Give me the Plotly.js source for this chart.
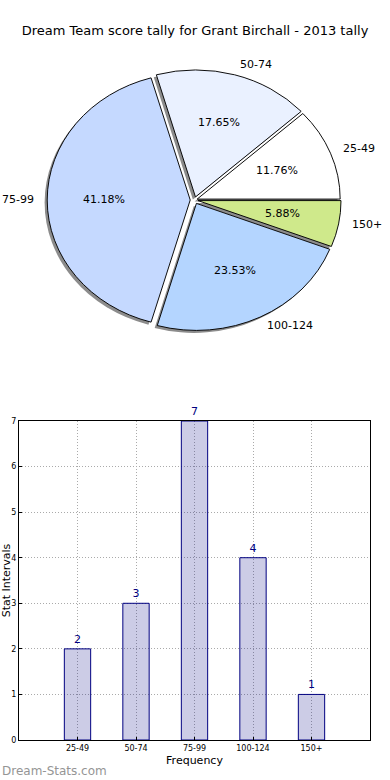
<!DOCTYPE html>
<html>
<head>
<meta charset="utf-8">
<script src="https://cdn.plot.ly/plotly-3.0.1.min.js"></script>
<style>html,body{margin:0;padding:0;background:#fff;}#chart{width:390px;height:780px;}</style>
</head>
<body>
<div id="chart"></div>
<script>
// ---- data ----
const categories = ["25-49", "50-74", "75-99", "100-124", "150+"];
const counts = [2, 3, 7, 4, 1];
const sliceColors = ["#ffffff", "#eaf1ff", "#c5d9ff", "#b4d5ff", "#cfe98b"];
const pulls = [0.02, 0.025, 0.03, 0.03, 0.025];
const chartTitle = "Dream Team score tally for Grant Birchall - 2013 tally";
const xTitle = "Frequency";
const yTitle = "Stat Intervals";
const watermark = "Dream-Stats.com";

// ---- pie geometry (pixels) ----
const W = 390, H = 780;
const font = "DejaVu Sans";
const cx = 194.5, cy = 200, R = 143;      // horizontal radius
const squash = 127 / 143;                  // matplotlib axes were not equal-aspect
const maxPull = Math.max(...pulls);
const half = R * (1 + maxPull);
function dom(x0, y0) {
  return {x: [(x0 - half) / W, (x0 + half) / W], y: [1 - (y0 + half) / H, 1 - (y0 - half) / H]};
}
const total = counts.reduce((a, b) => a + b, 0);
// first wedge starts at 3 o'clock and runs counter-clockwise
const rot = 90 - counts[0] / total * 360;

const shadow = {
  type: "pie", labels: categories, values: counts, sort: false,
  direction: "counterclockwise", rotation: rot, pull: pulls,
  domain: dom(cx - 2.6, cy + 2.8),
  marker: {colors: categories.map(() => "#8c8c8c"), line: {width: 0}},
  textinfo: "none", hoverinfo: "skip", showlegend: false
};
const pie = {
  type: "pie", labels: categories, values: counts, sort: false,
  direction: "counterclockwise", rotation: rot, pull: pulls,
  domain: dom(cx, cy),
  marker: {colors: sliceColors, line: {color: "#000", width: 1}},
  textinfo: "none", showlegend: false
};
const bars = {
  type: "bar", x: categories, y: counts, width: 0.45,
  marker: {color: "rgba(0,0,128,0.2)", line: {color: "#000080", width: 1}},
  text: counts.map(String), textposition: "outside", cliponaxis: false,
  textfont: {family: font, size: 11, color: "#000080"},
  xaxis: "x", yaxis: "y", showlegend: false
};

// wedge labels (percent at 0.6 r, category just outside), derived from the data
const pieAnn = [];
let acc = 0;
counts.forEach((v, i) => {
  const mid = (acc + v / 2) / total * 2 * Math.PI;
  acc += v;
  const dx = Math.cos(mid), dy = Math.sin(mid);
  const off = pulls[i] * R;
  const pos = f => ({x: cx + dx * (off + f * R), y: cy - squash * dy * (off + f * R)});
  const p = pos(0.6), l = pos(1.08);
  pieAnn.push({
    text: (v / total * 100).toFixed(2) + "%", xref: "paper", yref: "paper",
    x: p.x / W, y: 1 - (p.y - 1) / H, xanchor: "center", yanchor: "middle", showarrow: false,
    font: {family: font, size: 11, color: "#000"}
  });
  pieAnn.push({
    text: categories[i], xref: "paper", yref: "paper",
    x: l.x / W, y: 1 - (l.y - 1) / H, xanchor: dx > 0 ? "left" : "right", yanchor: "middle", showarrow: false,
    font: {family: font, size: 11, color: "#000"}
  });
});

const layout = {
  width: W, height: H, margin: {l: 0, r: 0, t: 0, b: 0},
  paper_bgcolor: "#fff", plot_bgcolor: "#fff",
  font: {family: font, color: "#000"},
  title: {text: chartTitle, font: {family: font, size: 13, color: "#000"}, x: 0.5, xanchor: "center", y: 1 - 30 / H, yanchor: "middle"},
  showlegend: false,
  xaxis: {
    domain: [19 / W, 370 / W], range: [-1, 5], type: "category",
    showline: true, mirror: true, linecolor: "#000", linewidth: 1,
    ticks: "inside", ticklen: 3, tickcolor: "#000",
    showgrid: true, gridcolor: "#aaaaaa", griddash: "1px,2px", gridwidth: 1,
    tickfont: {family: font, size: 8, color: "#000"},
    title: {text: xTitle, font: {family: font, size: 11, color: "#000"}, standoff: 4},
    zeroline: false, automargin: false, fixedrange: true
  },
  yaxis: {
    domain: [1 - 740 / H, 1 - 421 / H], range: [0, 7], dtick: 1,
    showline: true, mirror: true, linecolor: "#000", linewidth: 1,
    ticks: "inside", ticklen: 3, tickcolor: "#000",
    showgrid: true, gridcolor: "#aaaaaa", griddash: "1px,2px", gridwidth: 1,
    tickfont: {family: font, size: 8, color: "#000"},
    title: {text: yTitle, font: {family: font, size: 11, color: "#000"}, standoff: 2},
    zeroline: false, automargin: false, fixedrange: true
  },
  annotations: pieAnn.concat([{
    text: watermark, xref: "paper", yref: "paper",
    x: 0, y: 0, xanchor: "left", yanchor: "bottom", showarrow: false,
    font: {family: font, size: 12, color: "#959595"}
  }])
};

Plotly.newPlot("chart", [shadow, pie, bars], layout, {staticPlot: true, displayModeBar: false}).then(gd => {
  // reproduce the elliptical (non-equal aspect) pie of the original
  const layer = gd.querySelector(".pielayer");
  if (layer) {
    const prev = layer.getAttribute("transform") || "";
    layer.setAttribute("transform", prev + ` translate(0,${cy}) scale(1,${squash}) translate(0,${-cy})`);
  }
});
</script>
</body>
</html>
